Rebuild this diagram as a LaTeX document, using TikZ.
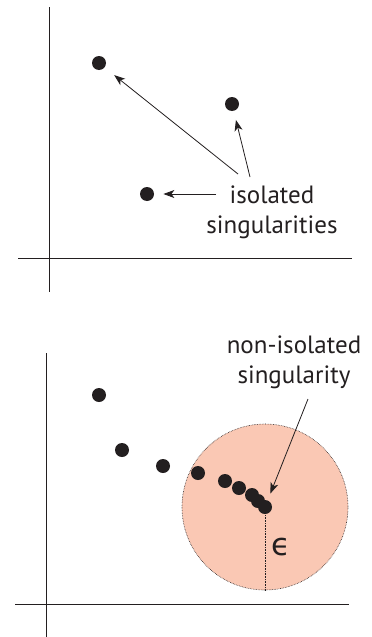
\documentclass[tikz,border=0pt]{standalone}
\usepackage{fontspec}
\setmainfont{PT Sans}
\newfontfamily\symfont{DejaVu Sans}
\usetikzlibrary{arrows.meta}
\definecolor{ink}{RGB}{35,31,32}
\definecolor{disc}{RGB}{250,200,180}
\begin{document}
\begin{tikzpicture}[x=1pt,y=-1pt,line width=0.8pt,color=ink,
    dot/.style={circle,fill=ink,inner sep=0pt,minimum size=14pt},
    lbl/.style={align=center,font=\fontsize{25}{30}\selectfont},
    arr/.style={-{Stealth[length=11pt,width=8pt,inset=3pt]},shorten >=9pt}]
   \useasboundingbox (0,0) rectangle (372,637);
   % isolated singularities
   \draw (49,7) -- (49,292);
   \draw (18,258) -- (352,258);
   \foreach \n/\x/\y in {a/99/63, b/232/104, c/147/194}
     \node[dot] (\n) at (\x,\y) {};
   \node[lbl] (iso) at (272,212) {isolated\\singularities};
   \coordinate (s1) at (238,174);
   \coordinate (s2) at (250,177);
   \coordinate (s3) at (216,194);
   \draw[arr,shorten >=12pt] (s1) -- (a);
   \draw[arr] (s2) -- (b);
   \draw[arr] (s3) -- (c);
   % non-isolated singularity
   \draw (46,353) -- (46,637);
   \draw (15,604) -- (349,604);
   \node[circle,minimum size=166pt,inner sep=0pt,fill=disc,draw,
     densely dotted,line width=0.6pt] (ball) at (265,507) {};
   \draw[densely dotted,line width=0.6pt] (ball.center) -- (ball.south);
   \node[font=\symfont\fontsize{31}{32}\selectfont] (eps) at (281,547) {ϵ};
   \foreach \n/\x/\y in {d1/99/395, d2/122/450, d3/163/466, d4/198/473,
       d5/225/481, d6/239/488, d7/252/495, d8/258/501, lim/265/507}
     \node[dot] (\n) at (\x,\y) {};
   \node[lbl] (noniso) at (294,362) {non-isolated\\singularity};
   \coordinate (s4) at (308,399);
   \draw[arr,shorten >=7pt] (s4) -- (lim);
\end{tikzpicture}
\end{document}
